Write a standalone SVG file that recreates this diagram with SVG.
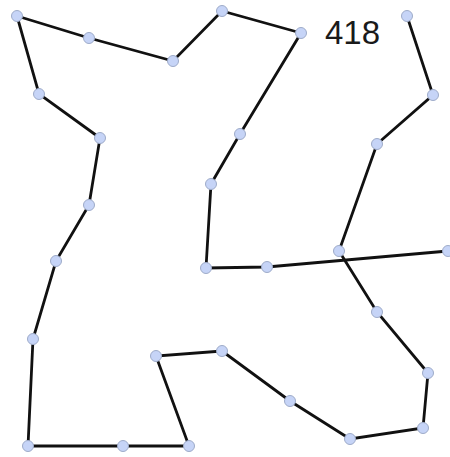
<svg xmlns="http://www.w3.org/2000/svg" width="450" height="457" viewBox="0 0 450 457">
<style>
.e{stroke:#111;stroke-width:2.8;stroke-linecap:round;fill:none}
.n{fill:#c6d4f7;stroke:#9eabc9;stroke-width:1}
.t{font-family:"Liberation Sans",Arial,sans-serif;font-size:33px;fill:#1a1a1a}
</style>
<rect width="450" height="457" fill="#fff"/>
<g id="connectors">
<polyline class="e" points="407,16 433,95 377,144 339,251 377,312 428,373 423,428 350,439 290,401 222,351 156,356 189,446 123,446 28,446 33,339 56,261 89,205 100,138 39,94 17,16 89,38 173,61 222,11 301,33 240,134 211,184 206,268 267,267 448,251"/>
</g>
<g id="nK"><circle class="n" cx="407" cy="16" r="5.5"/></g>
<g id="nL"><circle class="n" cx="433" cy="95" r="5.5"/></g>
<g id="nM"><circle class="n" cx="377" cy="144" r="5.5"/></g>
<g id="nW"><circle class="n" cx="339" cy="251" r="5.5"/></g>
<g id="nY"><circle class="n" cx="377" cy="312" r="5.5"/></g>
<g id="nZ"><circle class="n" cx="428" cy="373" r="5.5"/></g>
<g id="nAA"><circle class="n" cx="423" cy="428" r="5.5"/></g>
<g id="nAB"><circle class="n" cx="350" cy="439" r="5.5"/></g>
<g id="nAC"><circle class="n" cx="290" cy="401" r="5.5"/></g>
<g id="nT"><circle class="n" cx="222" cy="351" r="5.5"/></g>
<g id="nS"><circle class="n" cx="156" cy="356" r="5.5"/></g>
<g id="nR"><circle class="n" cx="189" cy="446" r="5.5"/></g>
<g id="nQ"><circle class="n" cx="123" cy="446" r="5.5"/></g>
<g id="nP"><circle class="n" cx="28" cy="446" r="5.5"/></g>
<g id="nO"><circle class="n" cx="33" cy="339" r="5.5"/></g>
<g id="nN"><circle class="n" cx="56" cy="261" r="5.5"/></g>
<g id="nG"><circle class="n" cx="89" cy="205" r="5.5"/></g>
<g id="nF"><circle class="n" cx="100" cy="138" r="5.5"/></g>
<g id="nE"><circle class="n" cx="39" cy="94" r="5.5"/></g>
<g id="nA"><circle class="n" cx="17" cy="16" r="5.5"/></g>
<g id="nB"><circle class="n" cx="89" cy="38" r="5.5"/></g>
<g id="nC"><circle class="n" cx="173" cy="61" r="5.5"/></g>
<g id="nD"><circle class="n" cx="222" cy="11" r="5.5"/></g>
<g id="nI"><circle class="n" cx="301" cy="33" r="5.5"/></g>
<g id="nJ"><circle class="n" cx="240" cy="134" r="5.5"/></g>
<g id="nH"><circle class="n" cx="211" cy="184" r="5.5"/></g>
<g id="nU"><circle class="n" cx="206" cy="268" r="5.5"/></g>
<g id="nV"><circle class="n" cx="267" cy="267" r="5.5"/></g>
<g id="nX"><circle class="n" cx="448" cy="251" r="5.5"/></g>
<g id="label"><text class="t" x="325" y="44">418</text></g>
</svg>
